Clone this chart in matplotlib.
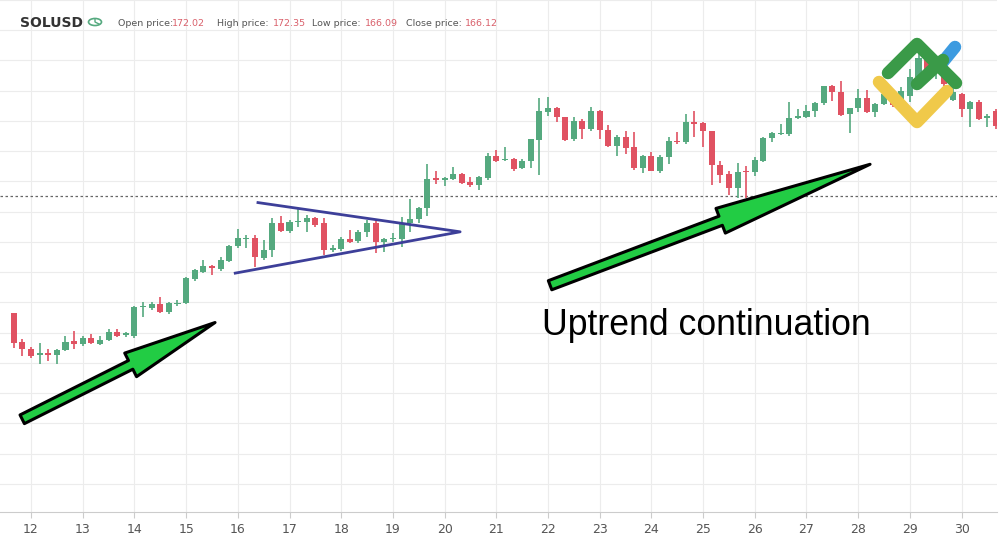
import matplotlib
matplotlib.use("Agg")
import matplotlib.pyplot as plt
import numpy as np
from matplotlib.patches import FancyArrowPatch, ArrowStyle, Circle
from matplotlib.lines import Line2D

opens = [87,59,52,46,48,46,51,60,57,63,57,61,69,66,65,93,92,96,88,96,97,121,128,134,131,139,154,161,162,142,
         150,177,169,178,178,182,177,150,151,161,159,168,177,158,161,161,177,181,192,221,219,220,225,217,214,221,243,239,240,231,
         238,259,287,291,282,260,278,270,288,269,253,262,252,231,243,228,242,258,257,277,276,268,234,225,211,228,227,238,261,265,
         265,281,282,288,296,313,307,285,291,301,287,295,300,294,303,322,340,326,333,299,305,290,297,281,288]
closes = [58,52,45,48,46,51,59,57,63,58,61,69,65,67,93,94,96,88,97,97,122,130,134,132,140,154,162,162,143,150,
          177,169,178,179,182,175,150,152,161,158,168,177,158,161,162,176,181,192,220,219,221,225,216,214,222,243,238,240,230,238,
          260,288,291,282,259,278,270,288,269,253,262,251,231,243,228,242,258,257,277,275,268,234,224,211,227,227,239,261,266,266,
          281,283,288,296,313,307,284,291,301,287,295,305,294,308,322,340,326,333,315,307,290,297,280,283,273]
highs = [87,62,54,58,52,52,65,70,65,67,65,72,72,69,94,98,98,103,98,100,123,131,140,135,143,155,171,165,165,160,
         182,184,180,191,185,183,182,155,163,170,170,180,180,162,167,183,201,193,235,228,222,232,226,222,223,246,249,252,241,240,
         260,301,302,292,282,282,280,292,289,274,264,268,267,244,247,244,262,267,285,288,277,268,238,228,236,233,242,262,267,275,
         297,290,294,297,313,314,318,291,310,309,296,310,303,312,330,345,343,338,337,315,306,298,299,285,290]
lows = [53,45,43,37,40,37,50,52,55,57,56,60,64,64,63,83,90,87,86,94,96,119,127,125,129,138,152,152,133,140,
        143,168,167,173,168,173,145,148,149,157,157,163,147,148,158,153,168,177,184,215,213,219,215,212,209,219,237,238,228,230,
        231,224,283,277,258,258,260,268,260,252,243,245,229,226,228,226,235,255,255,262,252,214,216,205,202,202,223,237,257,264,
        263,280,281,282,294,298,283,266,287,286,282,294,292,292,297,318,322,320,313,298,282,272,279,272,270]
start_day = 11 + 4/6
step = 1/6
day_ticks = list(range(12, 31))

header_labels = ["Open price:", "High price:", "Low price:", "Close price:"]
header_values = ["172.02", "172.35", "166.09", "166.12"]

GREEN = "#55a97f"
RED = "#e05262"

fig = plt.figure(figsize=(10, 5.42), dpi=100)
ax = fig.add_axes([0, 30/542, 0.997, 1 - 30/542])
ax.set_xlim(11.40, 30.685)
ax.set_ylim(-110, 398)

t = start_day + step*np.arange(len(opens))
o = np.array(opens); c = np.array(closes); h = np.array(highs); l = np.array(lows)
up = c >= o
cols = np.where(up, GREEN, RED)
ax.vlines(t, l, h, colors=cols, lw=1.2, zorder=3)
bot = np.minimum(o, c); ht = np.maximum(np.abs(c - o), 1.2)
ax.bar(t, ht, bottom=bot, width=step*0.7, color=cols, zorder=4, linewidth=0)

ax.set_xticks(day_ticks)
ax.set_xticklabels([str(d) for d in day_ticks], color="#555555", fontsize=9)
ax.set_yticks(np.arange(398, -111, -30))
ax.set_yticklabels([])
ax.tick_params(axis="y", length=0)
ax.tick_params(axis="x", length=4, color="#cccccc", pad=4)
ax.grid(True, color="#ececec", lw=0.8, zorder=0)
for s in ["top", "left", "right"]:
    ax.spines[s].set_visible(False)
ax.spines["bottom"].set_color("#cccccc")

ax.axhline(204, color="#666666", lw=0.9, ls=(0, (2, 2)), zorder=2)

# triangle
ax.plot([16.39, 20.30, 15.95], [197, 168, 127], color="#3d3f99", lw=2, zorder=5)

# arrows
def arrow(x0, y0, x1, y1, hl):
    st = ArrowStyle.Simple(head_length=hl, head_width=19, tail_width=7)
    ax.add_patch(FancyArrowPatch((x0, y0), (x1, y1), arrowstyle=st, mutation_scale=1,
                                 fc="#22cc44", ec="black", lw=2.2, zorder=6, shrinkA=0, shrinkB=0))
arrow(11.83, -18, 15.56, 78, 68)
arrow(22.04, 115, 28.23, 235, 115)

ax.text(21.88, 75, "Uptrend continuation", fontsize=25.7, family="Liberation Sans",
        va="center", ha="left", color="black", zorder=7)

# header
fig.text(0.02, 1 - 23/542, "SOLUSD", fontsize=10, weight="bold", color="#333333", va="center")
fig.patches.append(Circle((0.095, 1 - 22/542), 0.0065, transform=fig.transFigure,
                          fill=False, ec="#55a97f", lw=1.2))
fig.lines.append(Line2D([0.095, 0.095, 0.099], [1 - 19/542, 1 - 22/542, 1 - 24/542],
                        transform=fig.transFigure, color="#55a97f", lw=1))
lab_x = [118, 217, 312, 406]
val_x = [172, 273, 365, 465]
for lab, val, lx, vx in zip(header_labels, header_values, lab_x, val_x):
    fig.text(lx/1000, 1 - 23/542, lab, fontsize=6.8, color="#555555", va="center")
    fig.text(vx/1000, 1 - 23/542, val, fontsize=6.8, color="#d9606b", va="center")

# logo
def fl(xs, ys, col):
    fig.lines.append(Line2D([v/1000 for v in xs], [1 - v/542 for v in ys], transform=fig.transFigure,
                            color=col, lw=9, solid_capstyle="round", solid_joinstyle="round", zorder=10))
fl([942, 955], [63, 47], "#3d9be0")
fl([879, 917, 947], [82, 122, 91], "#f0c94a")
fl([888, 917, 956], [73, 44, 83], "#3a9a48")
fl([917, 943], [84, 60], "#3a9a48")

fig.savefig("out.png", dpi=100)
